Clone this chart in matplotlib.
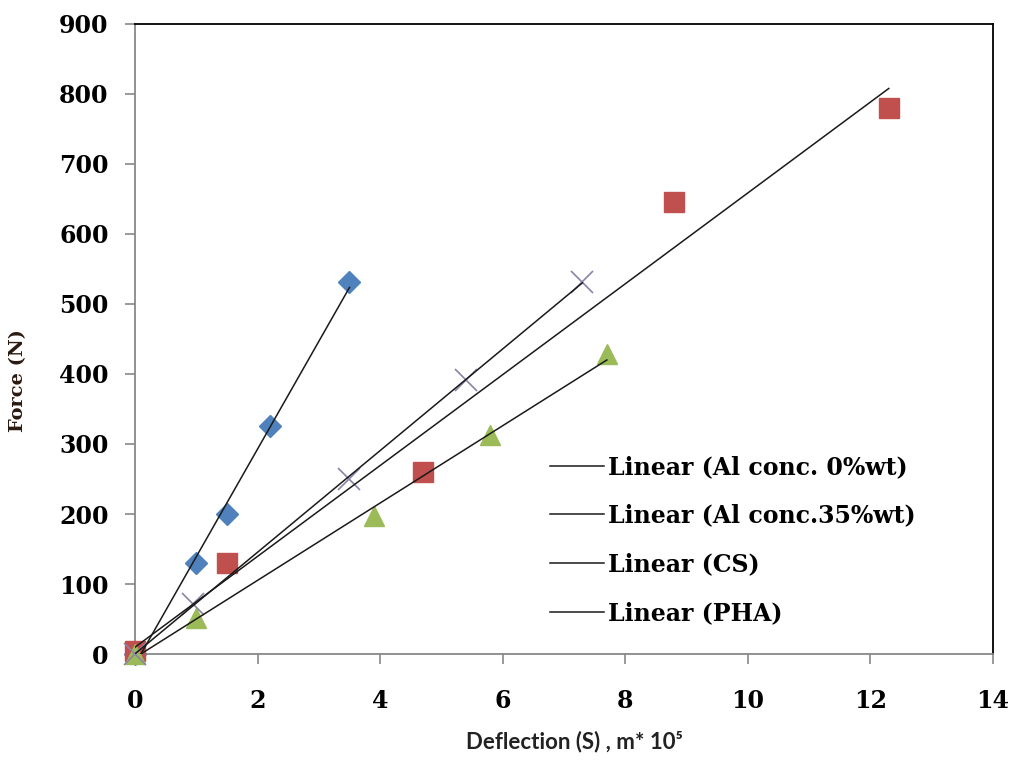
import numpy as np
import matplotlib.pyplot as plt

# Al conc. 0%wt
x_al0 = [0, 1.0, 1.5, 2.2, 3.5]
y_al0 = [0, 130, 200, 325, 532]
# Al conc. 35%wt
x_al35 = [0, 1.5, 4.7, 8.8, 12.3]
y_al35 = [5, 130, 260, 645, 780]
# CS
x_cs = [0, 0.95, 3.5, 5.4, 7.3]
y_cs = [0, 72, 250, 392, 532]
# PHA
x_pha = [0, 1.0, 3.9, 5.8, 7.7]
y_pha = [0, 52, 197, 313, 428]

labels = ["Linear (Al conc. 0%wt)", "Linear (Al conc.35%wt)", "Linear (CS)", "Linear (PHA)"]

fig = plt.figure(figsize=(10.18, 7.66), dpi=100)
ax = fig.add_axes([0.1326, 0.1462, 0.8428, 0.8225])

serif = "DejaVu Serif"

# markers
ax.plot(x_al0, y_al0, 'D', color='#4F81BD', ms=11, zorder=3, clip_on=False)
ax.plot(x_al35, y_al35, 's', color='#C0504D', ms=14, zorder=3, clip_on=False)
ax.plot(x_pha, y_pha, '^', color='#9BBB59', ms=15, zorder=3, clip_on=False)
ax.plot(x_cs, y_cs, 'x', color='#8C82A8', ms=16, mew=1.2, zorder=3, clip_on=False)

# trendlines (least squares fit over each data range)
handles = []
for xs, ys in [(x_al0, y_al0), (x_al35, y_al35), (x_cs, y_cs), (x_pha, y_pha)]:
    xs = np.array(xs, dtype=float)
    m, b = np.polyfit(xs, ys, 1)
    xx = np.array([xs.min(), xs.max()])
    h, = ax.plot(xx, m * xx + b, color='#1a1a1a', lw=1.1, zorder=4)
    handles.append(h)

ax.set_xlim(0, 14)
ax.set_ylim(0, 900)
ax.set_xticks(range(0, 15, 2))
ax.set_yticks(range(0, 901, 100))
for lab in ax.get_xticklabels() + ax.get_yticklabels():
    lab.set_family(serif)
    lab.set_fontweight('bold')
    lab.set_fontsize(17)
ax.tick_params(direction='out', length=7, color='#888888', width=1.2)
ax.tick_params(axis='y', pad=12)
ax.tick_params(axis='x', pad=18)

ax.spines['left'].set_color('#888888')
ax.spines['bottom'].set_color('#888888')
ax.spines['top'].set_color('black')
ax.spines['right'].set_color('black')
for s in ax.spines.values():
    s.set_linewidth(1.3)

ax.set_ylabel("Force (N)", family=serif, fontweight='bold', fontsize=14, color='#2a1a10')
ax.yaxis.set_label_coords(-(135 - 27) / 858, (654 - 381) / 630)
ax.set_xlabel("Deflection (S) , m* 10\u2075", family=['Lato', 'DejaVu Sans'], fontweight='bold',
              fontsize=16, color='#222222')
ax.xaxis.set_label_coords((574 - 135) / 858, -(731 - 654) / 630)

leg = fig.legend(handles, labels, loc='upper left', bbox_to_anchor=(538 / 1018, 1 - 443 / 766),
                 frameon=False, prop={'family': serif, 'weight': 'bold', 'size': 17},
                 handlelength=2.3, handletextpad=0.15, labelspacing=1.05, borderpad=0)

fig.savefig("out.png", dpi=100)
